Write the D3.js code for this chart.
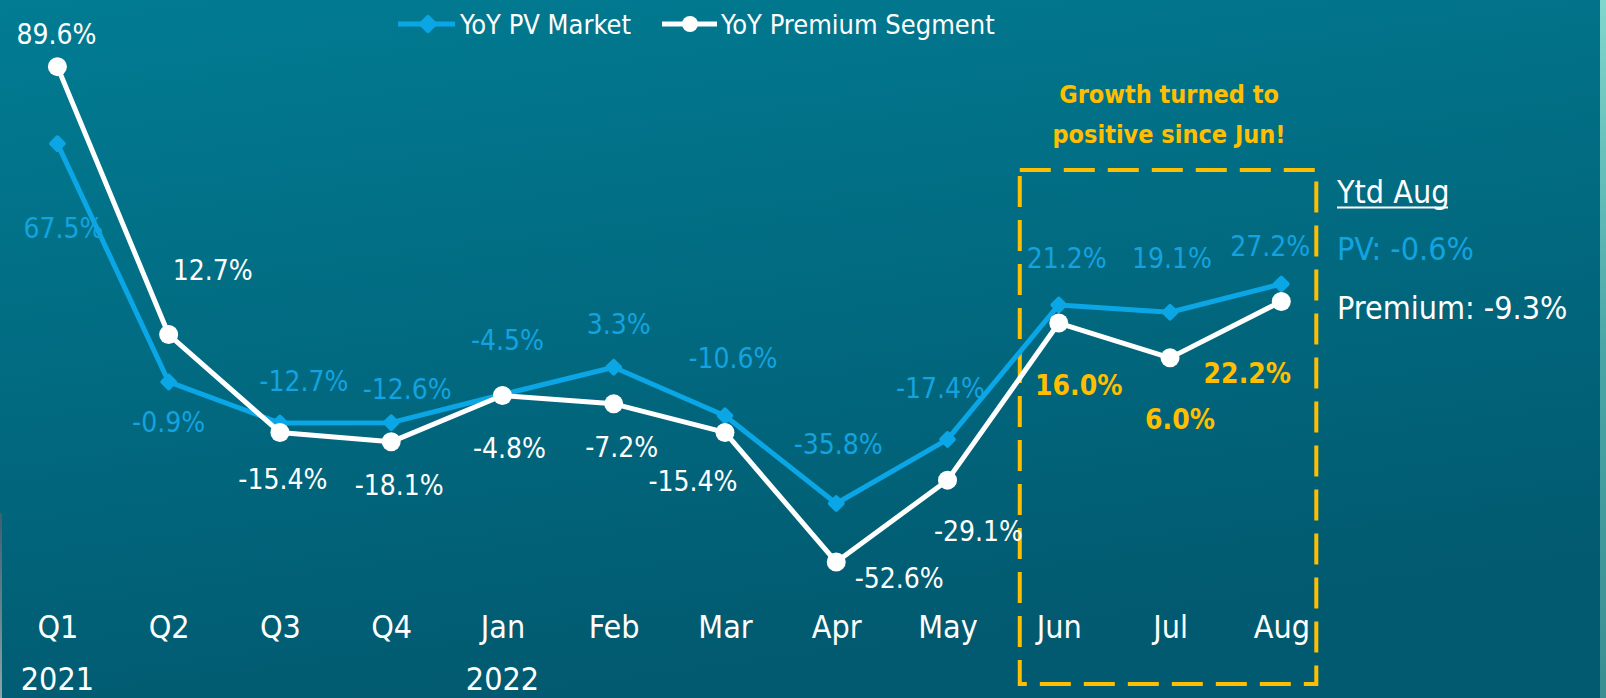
<!DOCTYPE html>
<meta charset="utf-8">
<head>
<style>
  html, body { margin: 0; padding: 0; background: #016a80; }
  svg { display: block; }
  text { font-family: "DejaVu Sans Condensed", "Liberation Sans Narrow", "DejaVu Sans", sans-serif; font-stretch: condensed; }
</style>
<script src="https://cdn.jsdelivr.net/npm/d3@7"></script>
</head>
<body>
<svg id="chart"></svg>
<script>

// chart values
const categories = ["Q1", "Q2", "Q3", "Q4", "Jan", "Feb", "Mar", "Apr", "May", "Jun", "Jul", "Aug"]
const yearLabels = ["2021", "", "", "", "2022", "", "", "", "", "", "", ""]
const pvMarket = [67.5, -0.9, -12.7, -12.6, -4.5, 3.3, -10.6, -35.8, -17.4, 21.2, 19.1, 27.2]
const premiumSegment = [89.6, 12.7, -15.4, -18.1, -4.8, -7.2, -15.4, -52.6, -29.1, 16.0, 6.0, 22.2]
const highlighted = ["Jun", "Jul", "Aug"]
const seriesNames = ["YoY PV Market", "YoY Premium Segment"]
const ytdTitle = "Ytd Aug"
const ytdLines = ["PV: -0.6%", "Premium: -9.3%"]
const note = ["Growth turned to", "positive since Jun!"]

// label offsets from each point (layout only)
const pvLabelOffset = [[6, 84], [0, 40], [24, -42], [16, -34], [5, -55], [5, -43], [8, -58], [2, -60], [-7, -51], [8, -47], [2, -54], [-11, -38]]
const premLabelOffset = [[-1, -33], [44, -65], [3, 46], [8, 43], [7, 52], [8, 43], [-32, 48], [63, 16], [31, 51], [20, 62], [10, 61], [-34, 71]]

const width = 1606, height = 698
const blue = "#0aa6e6", blueText = "#12a3e0", yellow = "#ffbe00"

let svg = d3.select("#chart").attr("width", width).attr("height", height)

// background
let defs = svg.append("defs")
let grad = defs.append("linearGradient").attr("id", "bg")
    .attr("x1", "0").attr("y1", "0").attr("x2", "0.3").attr("y2", "1")
grad.append("stop").attr("offset", "0").attr("stop-color", "#017c93")
grad.append("stop").attr("offset", "1").attr("stop-color", "#015a70")
svg.append("rect").attr("width", width).attr("height", height).attr("fill", "url(#bg)")

let edge = defs.append("linearGradient").attr("id", "edge")
    .attr("x1", "0").attr("y1", "0").attr("x2", "0").attr("y2", "1")
edge.append("stop").attr("offset", "0").attr("stop-color", "#7fd6cc")
edge.append("stop").attr("offset", "0.5").attr("stop-color", "#4aa6a6")
edge.append("stop").attr("offset", "1").attr("stop-color", "#3a8e92")
svg.append("rect").attr("x", 1600).attr("width", 6).attr("height", height).attr("fill", "url(#edge)")

let leftEdge = defs.append("linearGradient").attr("id", "leftEdge")
    .attr("x1", "0").attr("y1", "0").attr("x2", "0").attr("y2", "1")
leftEdge.append("stop").attr("offset", "0").attr("stop-color", "#3d5f6c")
leftEdge.append("stop").attr("offset", "1").attr("stop-color", "#8fa3aa")
svg.append("rect").attr("x", 0).attr("y", 513).attr("width", 2).attr("height", height - 513).attr("fill", "url(#leftEdge)")

// scales
let x = d3.scalePoint().domain(categories).range([57.4, 1281.3])
let y = d3.scaleLinear().domain([-60, 100]).range([587.8, 30.4])

// highlight box
let first = highlighted[0], last = highlighted[highlighted.length - 1]
svg.append("rect")
    .attr("x", x(first) - 39)
    .attr("y", 170)
    .attr("width", x(last) - x(first) + 74)
    .attr("height", 514)
    .attr("fill", "none")
    .attr("stroke", yellow)
    .attr("stroke-width", 4)
    .attr("stroke-dasharray", "31 13")

svg.append("g").selectAll("text")
    .data(note)
    .enter().append("text")
    .attr("x", (x(first) + x(last)) / 2 - 1)
    .attr("y", (d, i) => 103 + i * 40)
    .attr("text-anchor", "middle")
    .attr("fill", yellow)
    .attr("font-weight", "bold")
    .attr("font-size", 25)
    .text(d => d)

// lines
let line = d3.line().x((d, i) => x(categories[i])).y(d => y(d))

svg.append("path").datum(pvMarket)
    .attr("d", line).attr("fill", "none")
    .attr("stroke", blue).attr("stroke-width", 5).attr("stroke-linejoin", "round")

svg.append("g").selectAll("rect")
    .data(pvMarket)
    .enter().append("rect")
    .attr("x", -6.5).attr("y", -6.5).attr("width", 13).attr("height", 13).attr("rx", 2)
    .attr("fill", blue)
    .attr("transform", (d, i) => `translate(${x(categories[i])},${y(d)}) rotate(45)`)

svg.append("path").datum(premiumSegment)
    .attr("d", line).attr("fill", "none")
    .attr("stroke", "white").attr("stroke-width", 5).attr("stroke-linejoin", "round")

svg.append("g").selectAll("circle")
    .data(premiumSegment)
    .enter().append("circle")
    .attr("cx", (d, i) => x(categories[i]))
    .attr("cy", d => y(d))
    .attr("r", 9.5)
    .attr("fill", "white")

// data labels
function fmt(v) { return v.toFixed(1) + "%" }

svg.append("g").selectAll("text")
    .data(pvMarket)
    .enter().append("text")
    .attr("x", (d, i) => x(categories[i]) + pvLabelOffset[i][0])
    .attr("y", (d, i) => y(d) + pvLabelOffset[i][1])
    .attr("dy", "0.36em")
    .attr("text-anchor", "middle")
    .attr("fill", blueText)
    .attr("font-size", 28)
    .text(fmt)

svg.append("g").selectAll("text")
    .data(premiumSegment)
    .enter().append("text")
    .attr("x", (d, i) => x(categories[i]) + premLabelOffset[i][0])
    .attr("y", (d, i) => y(d) + premLabelOffset[i][1])
    .attr("dy", "0.36em")
    .attr("text-anchor", "middle")
    .attr("fill", (d, i) => highlighted.includes(categories[i]) ? yellow : "white")
    .attr("font-weight", (d, i) => highlighted.includes(categories[i]) ? "bold" : "normal")
    .attr("font-size", 28)
    .text(fmt)

// x axis
let axis = svg.append("g")
    .attr("transform", `translate(0,638)`)
    .call(d3.axisBottom(x).tickSize(0).tickPadding(0))
axis.select(".domain").remove()
axis.selectAll("text")
    .attr("y", 0).attr("dy", 0)
    .attr("fill", "white")
    .attr("font-size", 32)
    .style("font-family", null)

svg.append("g").selectAll("text")
    .data(yearLabels)
    .enter().append("text")
    .attr("x", (d, i) => x(categories[i]))
    .attr("y", 690)
    .attr("text-anchor", "middle")
    .attr("fill", "white")
    .attr("font-size", 32)
    .text(d => d)

// legend
let legend = svg.append("g")
let lg1 = legend.append("g").attr("transform", "translate(398,24)")
lg1.append("line").attr("x1", 0).attr("x2", 57).attr("stroke", blue).attr("stroke-width", 5)
lg1.append("rect").attr("x", -7).attr("y", -7).attr("width", 14).attr("height", 14).attr("rx", 2)
    .attr("fill", blue).attr("transform", "translate(30,0) rotate(45)")
lg1.append("text").attr("x", 62).attr("dy", "0.36em").attr("fill", "white").attr("font-size", 27).text(seriesNames[0])

let lg2 = legend.append("g").attr("transform", "translate(662,24)")
lg2.append("line").attr("x1", 0).attr("x2", 55).attr("stroke", "white").attr("stroke-width", 5)
lg2.append("circle").attr("cx", 28).attr("r", 8).attr("fill", "white")
lg2.append("text").attr("x", 59).attr("dy", "0.36em").attr("fill", "white").attr("font-size", 27).text(seriesNames[1])

// ytd box
let ytd = svg.append("g").attr("transform", "translate(1337,0)")
ytd.append("text").attr("y", 203).attr("fill", "white").attr("font-size", 32)
    .text(ytdTitle)
ytd.append("line").attr("x1", 0).attr("x2", 111).attr("y1", 207.5).attr("y2", 207.5)
    .attr("stroke", "white").attr("stroke-width", 2)
ytd.selectAll(".ytdline")
    .data(ytdLines)
    .enter().append("text")
    .attr("class", "ytdline")
    .attr("y", (d, i) => 260 + i * 59)
    .attr("fill", (d, i) => i == 0 ? blueText : "white")
    .attr("font-size", 32)
    .text(d => d)

</script>
</body>
